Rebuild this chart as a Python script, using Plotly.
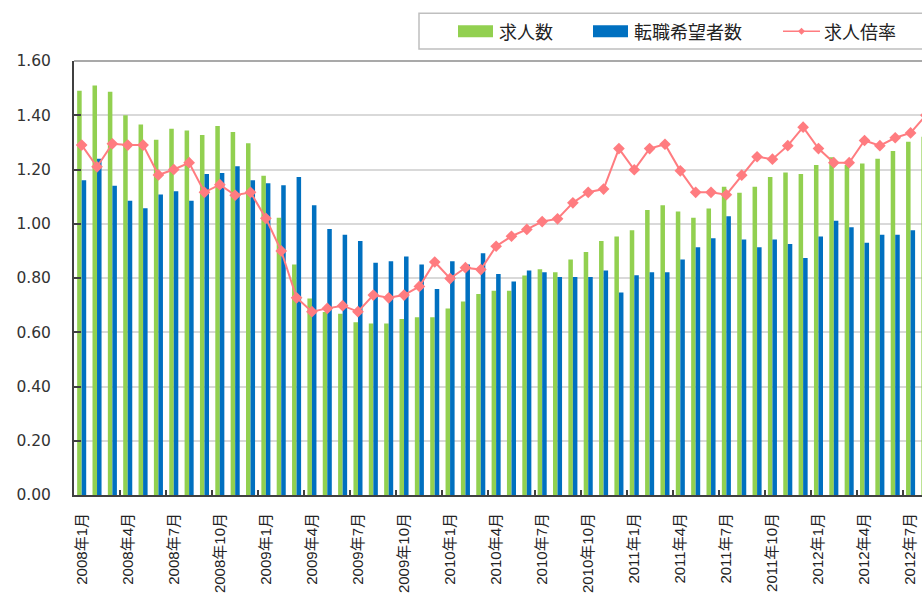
import plotly.graph_objects as go

months = [
    "2008年1月", "2008年2月", "2008年3月", "2008年4月", "2008年5月", "2008年6月",
    "2008年7月", "2008年8月", "2008年9月", "2008年10月", "2008年11月", "2008年12月",
    "2009年1月", "2009年2月", "2009年3月", "2009年4月", "2009年5月", "2009年6月",
    "2009年7月", "2009年8月", "2009年9月", "2009年10月", "2009年11月", "2009年12月",
    "2010年1月", "2010年2月", "2010年3月", "2010年4月", "2010年5月", "2010年6月",
    "2010年7月", "2010年8月", "2010年9月", "2010年10月", "2010年11月", "2010年12月",
    "2011年1月", "2011年2月", "2011年3月", "2011年4月", "2011年5月", "2011年6月",
    "2011年7月", "2011年8月", "2011年9月", "2011年10月", "2011年11月", "2011年12月",
    "2012年1月", "2012年2月", "2012年3月", "2012年4月", "2012年5月", "2012年6月",
    "2012年7月", "2012年8月",
]

job_openings = [
    1.49, 1.51, 1.487, 1.40, 1.366, 1.31, 1.35, 1.344, 1.327, 1.36, 1.338, 1.297,
    1.177, 1.022, 0.85, 0.724, 0.675, 0.668, 0.637, 0.632, 0.632, 0.649, 0.655, 0.655,
    0.688, 0.713, 0.741, 0.753, 0.753, 0.809, 0.832, 0.821, 0.868, 0.896, 0.936, 0.953,
    0.976, 1.051, 1.068, 1.045, 1.022, 1.056, 1.136, 1.114, 1.136, 1.172, 1.189, 1.183,
    1.217, 1.245, 1.217, 1.222, 1.240, 1.268, 1.302, 1.321,
]

job_seekers = [
    1.16, 1.24, 1.14, 1.085, 1.057, 1.108, 1.12, 1.085, 1.183, 1.187, 1.212, 1.16,
    1.149, 1.142, 1.172, 1.068, 0.981, 0.959, 0.936, 0.856, 0.862, 0.879, 0.850, 0.759,
    0.862, 0.850, 0.891, 0.815, 0.787, 0.828, 0.821, 0.804, 0.804, 0.804, 0.828, 0.747,
    0.810, 0.821, 0.821, 0.868, 0.913, 0.947, 1.028, 0.942, 0.913, 0.942, 0.925, 0.874,
    0.953, 1.011, 0.987, 0.930, 0.959, 0.959, 0.976, 0.945,
]

ratio = [
    1.29, 1.21, 1.295, 1.29, 1.29, 1.18, 1.20, 1.225, 1.116, 1.144, 1.105, 1.116,
    1.02, 0.90, 0.727, 0.676, 0.688, 0.698, 0.676, 0.737, 0.727, 0.737, 0.769, 0.859,
    0.798, 0.838, 0.831, 0.917, 0.954, 0.979, 1.008, 1.018, 1.077, 1.116, 1.128, 1.277,
    1.199, 1.277, 1.293, 1.195, 1.116, 1.116, 1.107, 1.179, 1.247, 1.238, 1.288, 1.356,
    1.277, 1.225, 1.225, 1.307, 1.288, 1.317, 1.335, 1.40,
]

y_ticks = [0.0, 0.2, 0.4, 0.6, 0.8, 1.0, 1.2, 1.4, 1.6]
series_names = ["求人数", "転職希望者数", "求人倍率"]

GREEN = "#92D050"
BLUE = "#0070C0"
PINK = "#FF7C80"

W, H = 922, 593
# plot area in screen pixels
SL, ST, SR, SB = 74, 61, 922, 498
L, T = SL, ST
R = W - SR
B = H - SB
PW = SR - SL
PH = SB - ST

idx = list(range(len(months)))
label_idx = idx[::3]

fig = go.Figure()
fig.add_trace(go.Bar(x=idx, y=job_openings, name=series_names[0], marker_color=GREEN,
                     marker_line_width=0))
fig.add_trace(go.Bar(x=idx, y=job_seekers, name=series_names[1], marker_color=BLUE,
                     marker_line_width=0))
fig.add_trace(go.Scatter(x=idx, y=ratio, name=series_names[2], mode="lines+markers",
                         line=dict(color=PINK, width=2),
                         marker=dict(symbol="diamond", size=9, color=PINK),
                         cliponaxis=True))


def px_x(p):
    return (p - SL) / PW


def px_y(p):
    return (SB - p) / PH


shapes = []
# top border of plot area
shapes.append(dict(type="line", xref="paper", yref="paper", x0=0, x1=1, y0=1, y1=1,
                   line=dict(color="#8C8C8C", width=1.5)))
# legend box
shapes.append(dict(type="rect", xref="paper", yref="paper",
                   x0=px_x(419), x1=px_x(950), y0=px_y(49), y1=px_y(13),
                   line=dict(color="#BFBFBF", width=1.5), fillcolor="white"))
# swatches
shapes.append(dict(type="rect", xref="paper", yref="paper",
                   x0=px_x(458), x1=px_x(493), y0=px_y(37), y1=px_y(25),
                   line=dict(width=0), fillcolor=GREEN))
shapes.append(dict(type="rect", xref="paper", yref="paper",
                   x0=px_x(593), x1=px_x(628), y0=px_y(37), y1=px_y(25),
                   line=dict(width=0), fillcolor=BLUE))
shapes.append(dict(type="line", xref="paper", yref="paper",
                   x0=px_x(783), x1=px_x(820), y0=px_y(31), y1=px_y(31),
                   line=dict(color=PINK, width=1.5)))
cx, cy, r = 801.5, 31, 3.5
shapes.append(dict(type="path", xref="paper", yref="paper",
                   path=f"M {px_x(cx - r)},{px_y(cy)} L {px_x(cx)},{px_y(cy - r)} "
                        f"L {px_x(cx + r)},{px_y(cy)} L {px_x(cx)},{px_y(cy + r)} Z",
                   line=dict(width=0), fillcolor=PINK))

legend_font = dict(family="Noto Sans CJK JP", size=18, color="#222222")
annotations = []
for text, xpx in zip(series_names, [497, 632, 822]):
    annotations.append(dict(text=text, xref="paper", yref="paper", x=px_x(xpx), y=px_y(31),
                            xanchor="left", yanchor="middle", showarrow=False,
                            font=legend_font))

fig.update_layout(
    width=W, height=H,
    margin=dict(l=L, r=R, t=T, b=B, pad=0),
    paper_bgcolor="white", plot_bgcolor="white",
    barmode="group", bargap=0.41, bargroupgap=0,
    showlegend=False,
    shapes=shapes,
    annotations=annotations,
)

fig.update_xaxes(
    range=[-0.5, -0.5 + PW / 15.35],
    tickmode="array", tickvals=label_idx, ticktext=[months[i] for i in label_idx],
    tickangle=-90, ticks="",
    tickfont=dict(family="Liberation Sans, Noto Sans CJK JP", size=15, color="#222222"),
    ticklabelstandoff=10,
    showline=True, linecolor="#404040", linewidth=2,
    showgrid=False, zeroline=False,
    minor=dict(tickmode="array", tickvals=[i + 2.5 for i in label_idx], ticks="inside",
               ticklen=5, tickwidth=1.5, tickcolor="#404040", showgrid=False),
)

fig.update_yaxes(
    range=[0, 1.6], tickmode="array", tickvals=y_ticks,
    ticktext=[f"{v:.2f}" for v in y_ticks],
    tickfont=dict(family="DejaVu Sans", size=15.5, color="#333333"),
    ticks="inside", ticklen=7, tickwidth=1.5, tickcolor="#404040",
    ticklabelstandoff=18,
    showline=True, linecolor="#404040", linewidth=2,
    showgrid=True, gridcolor="#D9D9D9", gridwidth=1.5,
    zeroline=False,
)

fig.write_html(
    "out.html",
    config={"displayModeBar": False},
    post_script=("document.body.style.margin='0';"
                 "document.documentElement.style.overflow='hidden';"
                 "document.body.style.overflow='hidden';"),
)
